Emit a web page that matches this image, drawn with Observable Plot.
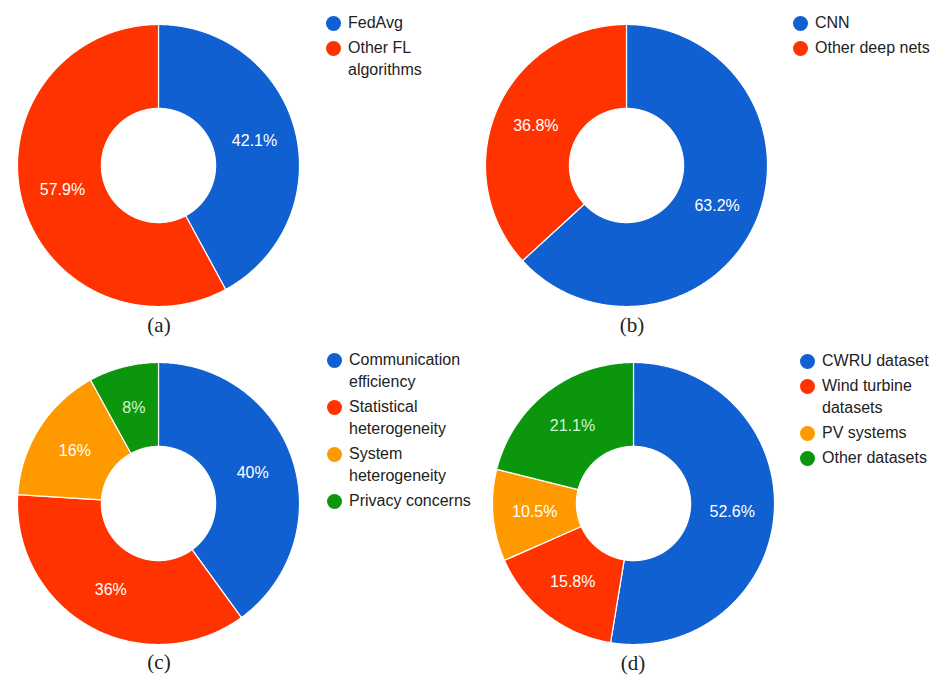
<!DOCTYPE html>
<html>
<head>
<meta charset="utf-8">
<script src="https://cdn.jsdelivr.net/npm/d3@7"></script>
<script src="https://cdn.jsdelivr.net/npm/@observablehq/plot@0.6"></script>
<style>
  html, body { margin: 0; padding: 0; background: #fff; }
  #root { position: relative; width: 937px; height: 677px; background: #fff; overflow: hidden; }
  .panel { position: absolute; }
  .legend { position: absolute; font-family: Arial, "Liberation Sans", sans-serif; font-size: 16px; color: #222; line-height: 22px; }
  .legend .item { position: relative; margin-bottom: 3px; }
  .legend .dot { position: absolute; left: -22px; top: 3.5px; width: 15px; height: 15px; border-radius: 50%; }
  .cap { position: absolute; font-family: "Times New Roman", "Liberation Serif", serif; font-size: 21px; color: #222; transform: translateX(-50%); }
</style>
</head>
<body>
<div id="root"></div>
<script>
// ---------- data ----------
const catsA = ["FedAvg", "Other FL algorithms"];
const valsA = [42.1, 57.9];
const catsB = ["CNN", "Other deep nets"];
const valsB = [63.2, 36.8];
const catsC = ["Communication efficiency", "Statistical heterogeneity", "System heterogeneity", "Privacy concerns"];
const valsC = [40, 36, 16, 8];
const catsD = ["CWRU dataset", "Wind turbine datasets", "PV systems", "Other datasets"];
const valsD = [52.6, 15.8, 10.5, 21.1];
const captions = ["(a)", "(b)", "(c)", "(d)"];
const palette = ["#1060d2", "#ff3300", "#ff9900", "#0c960e"];
const labelColors = ["#ffffff", "#ffffff", "#ffffff", "#d4f5d4"];

// ---------- layout ----------
const R_OUT = 1, R_IN = 0.405;
const half = 141, pad = 2;
const panels = [
  {cats: catsA, vals: valsA, cx: 157.5, cy: 164.5, legX: 348, legY: 12, legW: 135, capX: 159, capY: 313},
  {cats: catsB, vals: valsB, cx: 625.5, cy: 164.5, legX: 815, legY: 12, legW: 130, capX: 632, capY: 313},
  {cats: catsC, vals: valsC, cx: 158,   cy: 502.5, legX: 349, legY: 349, legW: 135, capX: 159, capY: 650},
  {cats: catsD, vals: valsD, cx: 632.5, cy: 502.7, legX: 822, legY: 350, legW: 114, capX: 633, capY: 651}
];

const root = document.getElementById("root");
const font = 'Arial, "Liberation Sans", sans-serif';

panels.forEach((p, pi) => {
  const data = p.cats.map((c, i) => ({cat: c, v: p.vals[i], color: palette[i], tc: labelColors[i]}));
  const arcs = d3.pie().sort(null).value(d => d.v)(data);
  const poly = [];
  const labels = [];
  const step = Math.PI / 360;
  arcs.forEach(a => {
    const n = Math.max(2, Math.ceil((a.endAngle - a.startAngle) / step));
    for (let k = 0; k <= n; k++) {
      const t = a.startAngle + (a.endAngle - a.startAngle) * k / n;
      poly.push({cat: a.data.cat, color: a.data.color, x: R_OUT * Math.sin(t), y: R_OUT * Math.cos(t)});
    }
    for (let k = n; k >= 0; k--) {
      const t = a.startAngle + (a.endAngle - a.startAngle) * k / n;
      poly.push({cat: a.data.cat, color: a.data.color, x: R_IN * Math.sin(t), y: R_IN * Math.cos(t)});
    }
    const mid = (a.startAngle + a.endAngle) / 2;
    const rm = (R_OUT + R_IN) / 2;
    labels.push({x: rm * Math.sin(mid), y: rm * Math.cos(mid), text: `${a.data.v}%`, tc: a.data.tc});
  });

  const size = 2 * half + 2 * pad;
  const chart = Plot.plot({
    width: size,
    height: size,
    margin: pad,
    x: {domain: [-1, 1], axis: null},
    y: {domain: [-1, 1], axis: null},
    color: {type: "identity"},
    style: {fontFamily: font, background: "transparent", overflow: "visible"},
    marks: [
      Plot.line(poly, {x: "x", y: "y", z: "cat", fill: "color", stroke: "#ffffff", strokeWidth: 1.2, curve: "linear-closed"}),
      Plot.text(labels, {x: "x", y: "y", text: "text", fill: "tc", fontSize: 16, fontFamily: font})
    ]
  });
  const wrap = document.createElement("div");
  wrap.className = "panel";
  wrap.style.left = (p.cx - half - pad) + "px";
  wrap.style.top = (p.cy - half - pad) + "px";
  wrap.appendChild(chart);
  root.appendChild(wrap);

  // legend
  const leg = document.createElement("div");
  leg.className = "legend";
  leg.style.left = p.legX + "px";
  leg.style.top = p.legY + "px";
  leg.style.width = p.legW + "px";
  data.forEach(d => {
    const it = document.createElement("div");
    it.className = "item";
    const dot = document.createElement("span");
    dot.className = "dot";
    dot.style.background = d.color;
    it.appendChild(dot);
    it.appendChild(document.createTextNode(d.cat));
    leg.appendChild(it);
  });
  root.appendChild(leg);

  // caption
  const cap = document.createElement("div");
  cap.className = "cap";
  cap.style.left = p.capX + "px";
  cap.style.top = p.capY + "px";
  cap.textContent = captions[pi];
  root.appendChild(cap);
});
</script>
</body>
</html>
